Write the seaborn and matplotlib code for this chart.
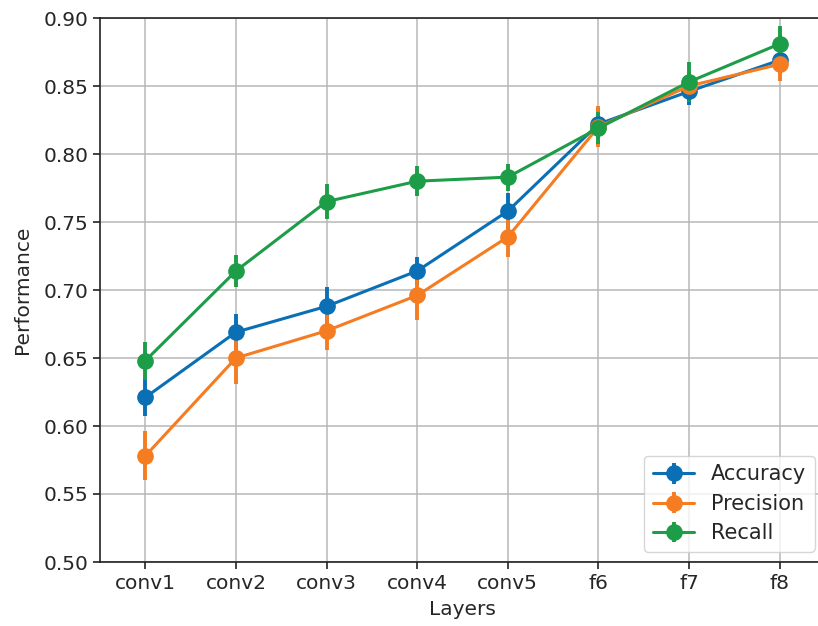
import matplotlib
matplotlib.use('Agg')
import matplotlib.pyplot as plt
import seaborn as sns

# datos
layers = ['conv1', 'conv2', 'conv3', 'conv4', 'conv5', 'f6', 'f7', 'f8']
accuracy = [0.621, 0.669, 0.688, 0.714, 0.758, 0.822, 0.846, 0.869]
accuracy_err = [0.014, 0.013, 0.014, 0.010, 0.013, 0.012, 0.010, 0.010]
precision = [0.578, 0.650, 0.670, 0.696, 0.739, 0.820, 0.850, 0.866]
precision_err = [0.018, 0.019, 0.014, 0.018, 0.015, 0.015, 0.010, 0.0125]
recall = [0.648, 0.714, 0.765, 0.780, 0.783, 0.819, 0.853, 0.881]
recall_err = [0.014, 0.0115, 0.013, 0.011, 0.010, 0.012, 0.015, 0.013]

colors = ['#0a6fb4', '#f57c21', '#1d9d48']

sns.set_style('ticks', {
    'axes.edgecolor': '#222222',
    'axes.grid': True,
    'grid.color': '#b8b8b8',
    'xtick.direction': 'out',
    'ytick.direction': 'out',
})
plt.rcParams['font.family'] = ['DejaVu Sans']
plt.rcParams['grid.linewidth'] = 1.1
plt.rcParams['xtick.major.size'] = 5
plt.rcParams['ytick.major.size'] = 5

fig = plt.figure(figsize=(8.18, 6.26), dpi=100)
ax = fig.add_axes([100 / 818, 64 / 626, 725 / 818, 544 / 626])

series = [('Accuracy', accuracy, accuracy_err),
          ('Precision', precision, precision_err),
          ('Recall', recall, recall_err)]
for (name, vals, errs), c in zip(series, colors):
    ax.errorbar(layers, vals, yerr=errs, color=c, marker='o', markersize=11,
                linewidth=2.2, elinewidth=2.8, capsize=0, label=name)

ax.set_xlim(-0.5, 7.5)
ax.set_ylim(0.5, 0.9)
ax.set_yticks([0.50, 0.55, 0.60, 0.65, 0.70, 0.75, 0.80, 0.85, 0.90])
ax.set_yticklabels(['%.2f' % v for v in ax.get_yticks()])
ax.tick_params(labelsize=14.5, width=1.2, color='#222222')
ax.set_xlabel('Layers', fontsize=14.5, labelpad=5)
ax.set_ylabel('Performance', fontsize=14.5, labelpad=8)
for s in ax.spines.values():
    s.set_linewidth(1.2)

ax.legend(loc='lower right', fontsize=15, frameon=True, fancybox=True,
          framealpha=0.8, edgecolor='#cccccc', borderaxespad=0.5,
          labelspacing=0.45, handletextpad=0.8)

fig.savefig('out.png', dpi=100)
